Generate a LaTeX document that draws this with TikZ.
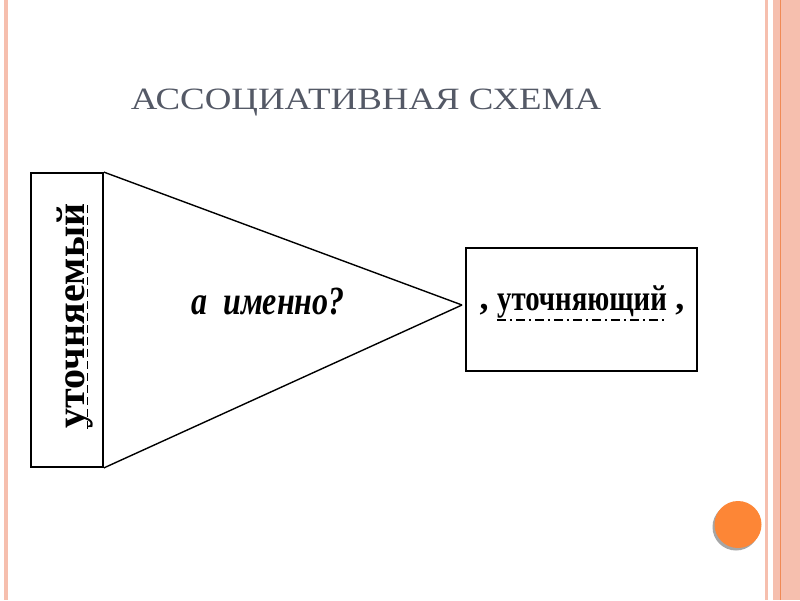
\documentclass[tikz,border=0pt]{standalone}
\usepackage{fontspec}
\setmainfont{Liberation Serif}
\usepackage{graphicx}
\usetikzlibrary{positioning}

\definecolor{stripe}{HTML}{F6BFAE}
\definecolor{stripeline}{HTML}{F08A55}
\definecolor{dot}{HTML}{FD8636}
\definecolor{titlegray}{HTML}{545966}

\begin{document}
\begin{tikzpicture}[x=1pt, y=-1pt]
      \tikzstyle{frame}=[rectangle, draw=black, line width=1.8pt, inner sep=0pt]
      \tikzstyle{word}=[inner sep=0pt, font=\bfseries]
      \tikzstyle{connect}=[line width=1.4pt]
      \tikzstyle{dashline}=[line width=1.3pt, dash pattern=on 8pt off 4pt]
      \tikzstyle{dashdotline}=[line width=1.3pt, dash pattern=on 9pt off 4pt on 2pt off 4pt]

      \useasboundingbox (0,0) rectangle (800,600);
      \fill[white] (0,0) rectangle (800,600);

      % stripes
      \fill[stripe] (4,0) rectangle (8,600);
      \fill[stripe] (765,0) rectangle (768,600);
      \fill[stripe] (773,0) rectangle (800,600);
      \draw[stripeline, line width=0.9pt] (780,0) -- (780,600);
      \fill[gray!70] (736,527) circle (23.5);
      \fill[dot] (738,524.5) circle (23.5);

      % title
      \node[text=titlegray, font=\fontsize{31}{36}\selectfont] (title) at (366,103) {\scalebox{1.19}[1]{АССОЦИАТИВНАЯ СХЕМА}};

      % boxes
      \node[frame, minimum width=72, minimum height=294] (defd) at (67,320) {};
      \node[frame, minimum width=231, minimum height=123] (defg) at (581.5,309.5) {};
      \coordinate (apex) at (462,305);

      % words
      \node[word, rotate=90, font=\bfseries\fontsize{40}{44}\selectfont] (defdword) at (75,316) {уточняемый};
      \node[word, font=\bfseries\fontsize{36}{40}\selectfont, anchor=base] (defgword) at (582,310) {\scalebox{0.8}[1]{уточняющий}};
      \node[word, font=\bfseries\fontsize{36}{40}\selectfont, anchor=base east] (commal) [left=8 of defgword.base west] {,};
      \node[word, font=\bfseries\fontsize{36}{40}\selectfont, anchor=base west] (commar) [right=8 of defgword.base east] {,};
      \node[word, font=\bfseries\itshape\fontsize{40}{44}\selectfont] (question) at (268,302) {\scalebox{0.8}[1]{а\ \ именно?}};

      \path (defd.north east) edge [connect] (apex)
        (defd.south east) edge [connect] (apex);

      \draw[dashline] ([xshift=3pt]defdword.base west) -- ([xshift=3pt]defdword.base east);
      \draw[dashdotline] ([yshift=-10pt]defgword.base west) -- ([yshift=-10pt]defgword.base east);

    \end{tikzpicture}
\end{document}
